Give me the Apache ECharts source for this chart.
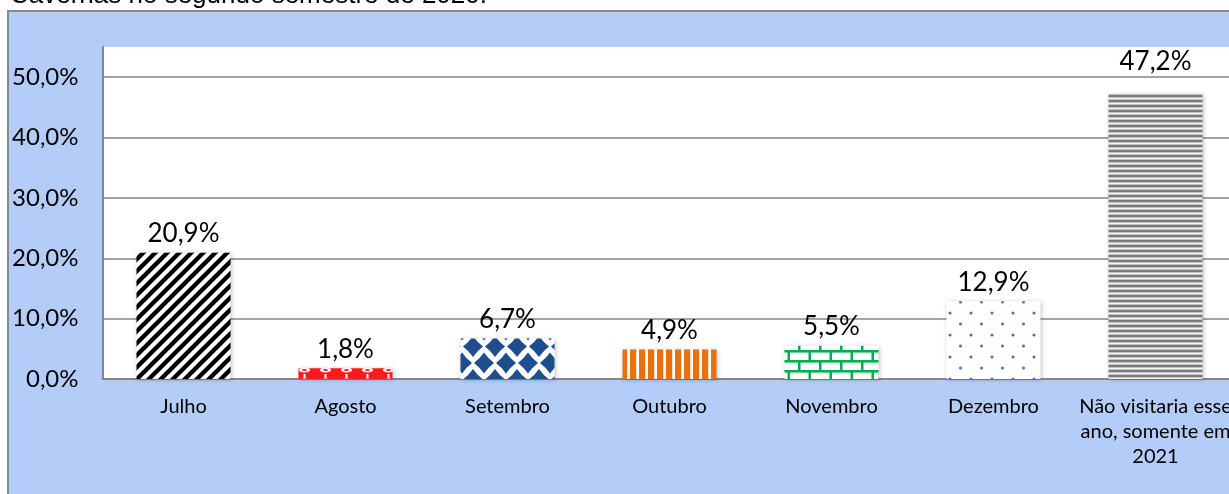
<!DOCTYPE html>
<html><head><meta charset="utf-8">
<script src="https://cdn.jsdelivr.net/npm/echarts@6/dist/echarts.min.js"></script>
<style>html,body{margin:0;padding:0;background:#fff;}#c{width:1229px;height:494px;}</style>
</head><body><div id="c"></div>
<script>
const titleText = 'Cavernas no segundo semestre de 2020.';
const categories = ['Julho','Agosto','Setembro','Outubro','Novembro','Dezembro','Não visitaria esse\nano, somente em\n2021'];
const values = [20.9, 1.8, 6.7, 4.9, 5.5, 12.9, 47.2];
const yTicks = [0, 10, 20, 30, 40, 50];
const labelDistance = [6, 6, 6, 6, 6, 6, 19];

function pat(w, h, draw) {
  const c = document.createElement('canvas');
  c.width = w; c.height = h;
  const g = c.getContext('2d');
  g.fillStyle = '#fff'; g.fillRect(0, 0, w, h);
  draw(g, w, h);
  return { image: c, repeat: 'repeat' };
}
function diamond(g, cx, cy, a, b, k) {
  g.beginPath();
  g.moveTo(cx, cy - b);
  g.quadraticCurveTo(cx + a * k, cy - b * k, cx + a, cy);
  g.quadraticCurveTo(cx + a * k, cy + b * k, cx, cy + b);
  g.quadraticCurveTo(cx - a * k, cy + b * k, cx - a, cy);
  g.quadraticCurveTo(cx - a * k, cy - b * k, cx, cy - b);
  g.fill();
}
const patterns = [
  pat(12, 12, (g, w, h) => { g.strokeStyle = '#000'; g.lineWidth = 4.4;
    g.beginPath(); g.moveTo(-2, h + 2); g.lineTo(w + 2, -2);
    g.moveTo(-2 - w, h + 2); g.lineTo(2, -2);
    g.moveTo(w - 2, h + 2); g.lineTo(2 * w + 2, -2); g.stroke(); }),
  pat(21, 11, (g) => { g.fillStyle = '#ff1a1a'; g.fillRect(0, 0, 21, 11);
    g.fillStyle = '#fff'; g.fillRect(9.5, 0, 2, 4);
    g.beginPath(); g.ellipse(10.5, 7, 5.5, 2.4, 0, 0, Math.PI * 2); g.fill();
    g.fillStyle = '#ff1a1a'; g.beginPath(); g.ellipse(10.5, 7, 2.5, 1, 0, 0, Math.PI * 2); g.fill(); }),
  pat(22, 33, (g) => { g.fillStyle = '#1f4e8c';
    [[0,0],[22,0],[0,33],[22,33],[11,16.5]].forEach(([x,y]) => diamond(g, x, y, 10, 10.5, 0.42)); }),
  pat(9, 4, (g) => { g.fillStyle = '#e8700f'; g.fillRect(0, 0, 6, 4); g.fillStyle = '#f6c9a3'; g.fillRect(6, 0, 0.6, 4); }),
  pat(21, 20, (g) => { g.fillStyle = '#00b050';
    g.fillRect(0, 0, 21, 2.5); g.fillRect(0, 10, 21, 2.5);
    g.fillRect(0, 0, 2.5, 10); g.fillRect(10.5, 10, 2.5, 10);
    g.fillStyle = 'rgba(0,176,80,0.25)'; g.fillRect(0, 2.5, 21, 1); g.fillRect(0, 12.5, 21, 1); }),
  pat(21, 22, (g) => { g.fillStyle = '#4a6fa8';
    [[5,5],[15.5,16]].forEach(([x,y]) => { g.beginPath(); g.arc(x, y, 1.5, 0, Math.PI*2); g.fill(); }); }),
  pat(2, 5, (g) => { g.fillStyle = '#7a7a7a'; g.fillRect(0, 0, 2, 2); g.fillStyle = '#c4c4c4'; g.fillRect(0, 2, 2, 1); g.fillRect(0, 4, 2, 1); g.fillStyle = '#f2f2f2'; g.fillRect(0,3,2,1); })
];

const fmt = v => v.toFixed(1).replace('.', ',') + '%';
const chart = echarts.init(document.getElementById('c'), null, { renderer: 'canvas' });
chart.setOption({
  animation: false,
  backgroundColor: '#ffffff',
  graphic: [
    { type: 'rect', left: 7, top: 10, shape: { width: 1240, height: 500 }, style: { fill: '#b4cdf8', stroke: '#888888', lineWidth: 2 }, z: -10 },
    { type: 'text', x: 10, y: 9, style: { text: titleText, font: '26px "Liberation Sans", Arial, sans-serif', fill: '#000', verticalAlign: 'bottom' } }
  ],
  grid: { left: 102.5, width: 1134, top: 47, bottom: 115, show: true, backgroundColor: '#ffffff', borderWidth: 0, outerBoundsMode: 'none', containLabel: false },
  xAxis: {
    type: 'category', data: categories,
    axisLine: { show: true, lineStyle: { color: '#868686', width: 2 } },
    axisTick: { show: false },
    axisLabel: { interval: 0, margin: 15, color: '#000', fontFamily: 'Lato', fontSize: 20, lineHeight: 25 }
  },
  yAxis: {
    type: 'value', min: 0, max: 55, interval: 10,
    axisLine: { show: true, lineStyle: { color: '#868686', width: 2 } },
    axisTick: { show: false },
    splitLine: { show: true, showMaxLine: false, showMinLine: false, lineStyle: { color: '#868686', width: 1.5 } },
    axisLabel: { margin: 24, color: '#000', fontFamily: 'Lato', fontSize: 24,
      formatter: v => (yTicks.indexOf(v) >= 0 ? fmt(v) : '') }
  },
  series: [{
    type: 'bar', barWidth: 94,
    data: values.map((v, i) => ({ value: v, itemStyle: { color: patterns[i] }, label: { distance: labelDistance[i] } })),
    itemStyle: { shadowBlur: 4, shadowColor: 'rgba(0,0,0,0.25)', shadowOffsetX: 1, shadowOffsetY: 1 },
    label: { show: true, position: 'top', color: '#000', fontFamily: 'Lato', fontSize: 26, formatter: p => fmt(p.value) }
  }]
});
</script></body></html>
